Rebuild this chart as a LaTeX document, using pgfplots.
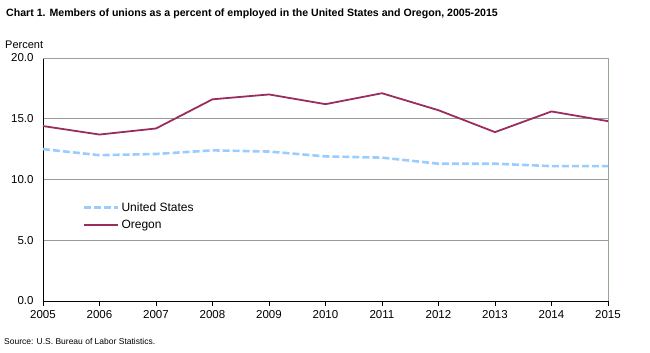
\documentclass[border=0pt]{standalone}
\usepackage{pgfplots}
\pgfplotsset{compat=1.18}
\usepackage{fontspec}
\setmainfont{Liberation Sans}
\definecolor{orcol}{RGB}{153,45,95}
\definecolor{uscol}{RGB}{153,204,255}
\definecolor{gridc}{RGB}{150,165,150}
\begin{document}
\begin{tikzpicture}[x=1pt,y=1pt]
\useasboundingbox (-43,-52) rectangle (607,301);
\begin{axis}[
  scale only axis, width=565pt, height=243pt,
  xmin=2005, xmax=2015, ymin=0, ymax=20,
  xtick={2005,...,2015},
  xticklabels={2005,2006,2007,2008,2009,2010,2011,2012,2013,2014,2015},
  ytick={0,5,10,15,20},
  yticklabels={0.0,5.0,10.0,15.0,20.0},
  axis x line*=bottom, axis y line*=left,
  x axis line style={black, line width=0.8pt},
  y axis line style={black, line width=0.8pt},
  xtick style={black, line width=0.8pt},
  ytick style={draw=none},
  tick align=outside, major tick length=5pt,
  ymajorgrids, grid style={gray!80, line width=0.5pt},
  tick label style={font=\fontsize{11.5}{13}\selectfont},
  xticklabel style={yshift=-1pt},
  yticklabel style={xshift=-1pt},
  legend style={draw=none, fill=none, at={(rel axis cs:0.065,0.422)}, anchor=north west,
    font=\fontsize{12}{14}\selectfont, row sep=3pt},
  legend cell align=left,
  legend image code/.code={\draw[#1] (0pt,0pt) -- (34pt,0pt);},
  clip=false,
]
\draw[gridc, line width=0.8pt] (rel axis cs:0,1) -- (rel axis cs:1,1) -- (rel axis cs:1,0);
\addplot[uscol, line width=2.6pt, dash pattern=on 7pt off 3pt] coordinates {
(2005,12.5) (2006,12.0) (2007,12.1) (2008,12.4) (2009,12.3) (2010,11.9)
(2011,11.8) (2012,11.3) (2013,11.3) (2014,11.1) (2015,11.1)};
\addlegendentry{United States}
\addplot[orcol, line width=1.8pt] coordinates {
(2005,14.4) (2006,13.7) (2007,14.2) (2008,16.6) (2009,17.0) (2010,16.2)
(2011,17.1) (2012,15.7) (2013,13.9) (2014,15.6) (2015,14.8)};
\addlegendentry{Oregon}
\end{axis}
\node[anchor=west, font=\bfseries\fontsize{10.6}{12}\selectfont, inner sep=0pt] at (-37,287) {Chart 1. Members of unions as a percent of employed in the United States and Oregon, 2005-2015};
\node[anchor=west, font=\fontsize{11}{12}\selectfont, inner sep=0pt] at (-38,256) {Percent};
\node[anchor=west, font=\fontsize{8.5}{10}\selectfont, inner sep=0pt] at (-39,-40) {Source: U.S. Bureau of Labor Statistics.};
\end{tikzpicture}
\end{document}
